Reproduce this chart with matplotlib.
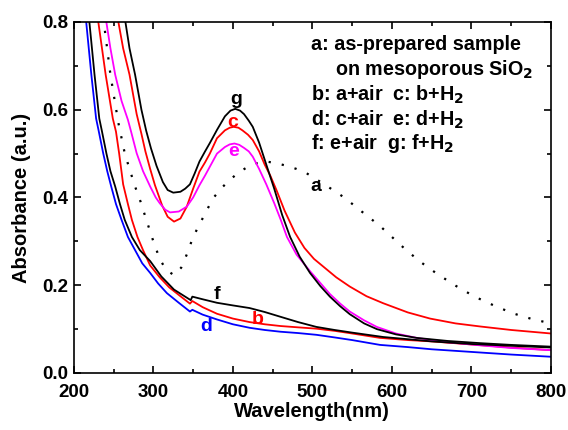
import matplotlib
matplotlib.use("Agg")
import matplotlib.pyplot as plt
from matplotlib.ticker import MultipleLocator

plt.rcParams['font.family'] = ['Liberation Sans', 'DejaVu Sans']
plt.rcParams['font.weight'] = 'bold'
plt.rcParams['mathtext.default'] = 'bf'

# spectra (wavelength nm, absorbance)
wl_a = [237, 246, 256, 264, 270, 277, 284, 291, 300, 308, 316, 326, 335, 342, 349, 356, 363, 375, 386, 396, 408, 419, 430, 442, 455, 468, 480, 492, 515, 540, 562, 585, 600, 618, 636, 656, 680, 704, 728, 752, 776, 800]
ab_a = [0.81, 0.68, 0.57, 0.501, 0.465, 0.425, 0.39, 0.35, 0.30, 0.26, 0.235, 0.223, 0.24, 0.27, 0.305, 0.332, 0.356, 0.398, 0.422, 0.44, 0.458, 0.47, 0.478, 0.482, 0.478, 0.472, 0.465, 0.456, 0.43, 0.40, 0.368, 0.335, 0.31, 0.28, 0.253, 0.227, 0.199, 0.174, 0.154, 0.136, 0.123, 0.113]

wl_b = [230, 240, 249, 253, 257, 262, 268, 273, 280, 287, 296, 308, 320, 334, 346, 349, 362, 380, 400, 421, 440, 460, 482, 505, 528, 550, 585, 620, 650, 700, 750, 800]
ab_b = [0.81, 0.68, 0.58, 0.55, 0.50, 0.43, 0.385, 0.349, 0.31, 0.28, 0.245, 0.218, 0.195, 0.175, 0.158, 0.164, 0.15, 0.135, 0.124, 0.116, 0.111, 0.107, 0.104, 0.101, 0.096, 0.09, 0.08, 0.075, 0.072, 0.065, 0.058, 0.052]

wl_c = [255, 262, 270, 279, 285, 290, 296, 302, 311, 318, 326, 334, 342, 350, 358, 365, 371, 380, 390, 396, 401, 407, 412, 419, 425, 433, 440, 447, 455, 465, 478, 490, 502, 514, 530, 547, 568, 589, 620, 648, 680, 711, 750, 800]
ab_c = [0.81, 0.74, 0.68, 0.59, 0.545, 0.505, 0.465, 0.428, 0.382, 0.356, 0.345, 0.352, 0.379, 0.42, 0.459, 0.48, 0.50, 0.535, 0.553, 0.559, 0.561, 0.559, 0.553, 0.543, 0.531, 0.505, 0.475, 0.45, 0.416, 0.37, 0.32, 0.285, 0.26, 0.242, 0.218, 0.197, 0.175, 0.159, 0.138, 0.124, 0.113, 0.106, 0.098, 0.09]

wl_d = [215, 222, 228, 231, 237, 242, 247, 253, 260, 268, 277, 286, 296, 306, 317, 332, 346, 349, 362, 380, 400, 421, 440, 460, 482, 505, 528, 550, 585, 620, 650, 700, 750, 800]
ab_d = [0.81, 0.68, 0.58, 0.554, 0.50, 0.46, 0.425, 0.385, 0.349, 0.31, 0.28, 0.25, 0.228, 0.204, 0.182, 0.16, 0.14, 0.144, 0.133, 0.122, 0.111, 0.103, 0.098, 0.094, 0.091, 0.087, 0.081, 0.075, 0.064, 0.059, 0.054, 0.048, 0.042, 0.037]

wl_e = [240, 246, 252, 260, 268, 272, 279, 287, 296, 303, 308, 315, 321, 332, 342, 350, 358, 365, 371, 380, 390, 396, 402, 408, 414, 420, 425, 433, 442, 452, 460, 468, 480, 497, 510, 522, 535, 547, 565, 581, 605, 631, 670, 711, 750, 800]
ab_e = [0.81, 0.74, 0.68, 0.62, 0.577, 0.55, 0.501, 0.46, 0.425, 0.40, 0.387, 0.372, 0.366, 0.368, 0.379, 0.40, 0.428, 0.45, 0.47, 0.50, 0.515, 0.521, 0.523, 0.52, 0.513, 0.505, 0.493, 0.465, 0.43, 0.387, 0.35, 0.31, 0.27, 0.232, 0.205, 0.18, 0.158, 0.14, 0.12, 0.105, 0.09, 0.08, 0.07, 0.063, 0.057, 0.052]

wl_f = [219, 226, 232, 235, 241, 246, 252, 258, 264, 273, 283, 296, 310, 326, 340, 347, 349, 362, 380, 400, 421, 440, 460, 482, 505, 528, 550, 589, 620, 650, 700, 750, 800]
ab_f = [0.81, 0.68, 0.58, 0.554, 0.50, 0.46, 0.425, 0.385, 0.349, 0.31, 0.28, 0.255, 0.22, 0.19, 0.174, 0.166, 0.174, 0.168, 0.16, 0.154, 0.148, 0.139, 0.128, 0.116, 0.105, 0.098, 0.092, 0.082, 0.077, 0.072, 0.066, 0.062, 0.058]

wl_g = [264, 270, 277, 285, 291, 297, 304, 312, 318, 325, 334, 340, 346, 352, 358, 365, 371, 380, 390, 397, 403, 409, 414, 420, 425, 433, 442, 452, 462, 472, 484, 497, 510, 522, 535, 547, 565, 581, 605, 631, 670, 711, 750, 800]
ab_g = [0.81, 0.74, 0.68, 0.60, 0.552, 0.512, 0.472, 0.435, 0.417, 0.411, 0.413, 0.42, 0.43, 0.455, 0.482, 0.505, 0.524, 0.554, 0.585, 0.598, 0.602, 0.598, 0.59, 0.575, 0.561, 0.525, 0.475, 0.42, 0.36, 0.31, 0.265, 0.228, 0.198, 0.174, 0.152, 0.134, 0.113, 0.1, 0.088, 0.08, 0.073, 0.068, 0.064, 0.06]

fig = plt.figure(figsize=(5.68, 4.30), dpi=100)
ax = fig.add_axes([0.130, 0.1326, 0.840, 0.8163])

ax.plot(wl_a, ab_a, color='black', lw=1.6, linestyle=(0, (1, 5)))
ax.plot(wl_b, ab_b, color='#ff0000', lw=1.3)
ax.plot(wl_c, ab_c, color='#ff0000', lw=1.3)
ax.plot(wl_d, ab_d, color='#0000ff', lw=1.3)
ax.plot(wl_e, ab_e, color='#ff00ff', lw=1.3)
ax.plot(wl_f, ab_f, color='black', lw=1.3)
ax.plot(wl_g, ab_g, color='black', lw=1.3)

# curve labels
fs = 14
ax.text(404, 0.624, 'g', color='black', fontsize=fs, fontweight='bold', ha='center', va='center')
ax.text(400, 0.572, 'c', color='#ff0000', fontsize=fs, fontweight='bold', ha='center', va='center')
ax.text(401, 0.504, 'e', color='#ff00ff', fontsize=fs, fontweight='bold', ha='center', va='center')
ax.text(504, 0.426, 'a', color='black', fontsize=fs, fontweight='bold', ha='center', va='center')
ax.text(380, 0.178, 'f', color='black', fontsize=fs, fontweight='bold', ha='center', va='center')
ax.text(431, 0.121, 'b', color='#ff0000', fontsize=fs, fontweight='bold', ha='center', va='center')
ax.text(367, 0.107, 'd', color='#0000ff', fontsize=fs, fontweight='bold', ha='center', va='center')

# description block
tfs = 14.2
ax.text(498, 0.748, 'a: as-prepared sample', fontsize=tfs, fontweight='bold', va='center')
ax.text(528, 0.691, r'on mesoporous SiO$_2$', fontsize=tfs, fontweight='bold', va='center')
ax.text(498, 0.634, r'b: a+air  c: b+H$_2$', fontsize=tfs, fontweight='bold', va='center')
ax.text(498, 0.577, r'd: c+air  e: d+H$_2$', fontsize=tfs, fontweight='bold', va='center')
ax.text(498, 0.522, r'f: e+air  g: f+H$_2$', fontsize=tfs, fontweight='bold', va='center')

ax.set_xlim(200, 800)
ax.set_ylim(0, 0.8)
ax.xaxis.set_major_locator(MultipleLocator(100))
ax.xaxis.set_minor_locator(MultipleLocator(50))
ax.yaxis.set_major_locator(MultipleLocator(0.2))
ax.yaxis.set_minor_locator(MultipleLocator(0.1))
ax.tick_params(which='both', direction='in', top=True, right=True, labelsize=13.5, width=1.2)
ax.tick_params(which='major', length=5)
ax.tick_params(which='minor', length=3)
ax.tick_params(axis='x', pad=8)
ax.tick_params(axis='y', pad=4)
for lab in ax.get_xticklabels() + ax.get_yticklabels():
    lab.set_fontweight('bold')
for sp in ax.spines.values():
    sp.set_linewidth(1.2)

ax.set_xlabel('Wavelength(nm)', fontsize=14.5, fontweight='bold', labelpad=1)
ax.set_ylabel('Absorbance (a.u.)', fontsize=14.5, fontweight='bold', labelpad=8)

fig.savefig('out.png', dpi=100)
